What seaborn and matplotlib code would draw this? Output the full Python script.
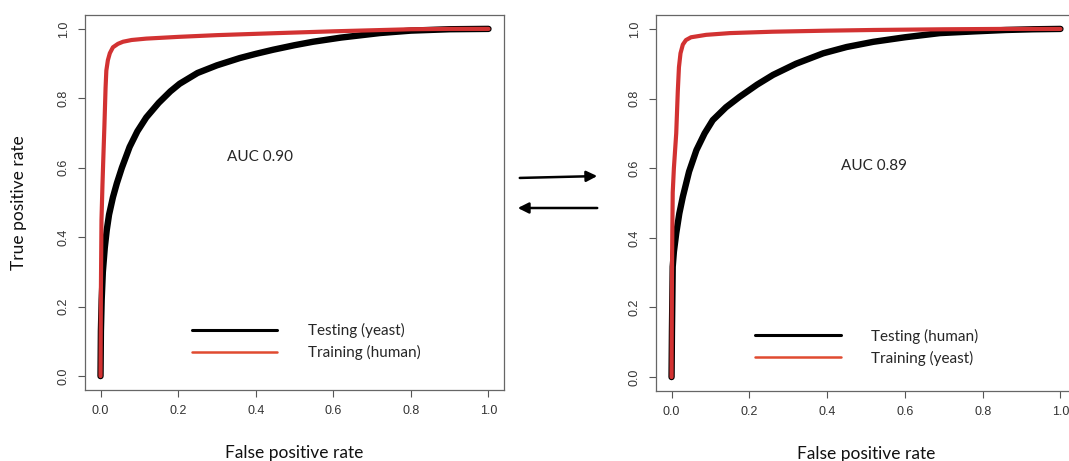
import numpy as np
import pandas as pd
import matplotlib
matplotlib.use("Agg")
import matplotlib.pyplot as plt
import seaborn as sns
from matplotlib.lines import Line2D

# ---- data ----
# Left panel: trained on human, tested on yeast
left_test_fpr = [0.0, 0.001, 0.003, 0.006, 0.011, 0.016, 0.022, 0.032, 0.042, 0.055, 0.075, 0.095, 0.118, 0.15, 0.18, 0.204, 0.25, 0.3, 0.359, 0.4, 0.445, 0.5, 0.548, 0.62, 0.72, 0.8, 0.9, 1.0]
left_test_tpr = [0.0, 0.13, 0.22, 0.30, 0.37, 0.42, 0.465, 0.515, 0.555, 0.60, 0.66, 0.705, 0.745, 0.787, 0.82, 0.842, 0.873, 0.895, 0.916, 0.928, 0.94, 0.953, 0.963, 0.975, 0.988, 0.995, 0.999, 1.0]
left_train_fpr = [0.0, 0.001, 0.0025, 0.005, 0.007, 0.01, 0.013, 0.015, 0.019, 0.024, 0.032, 0.045, 0.058, 0.08, 0.118, 0.2, 0.3, 0.46, 0.6, 0.8, 0.9, 1.0]
left_train_tpr = [0.0, 0.25, 0.45, 0.55, 0.62, 0.72, 0.83, 0.88, 0.91, 0.93, 0.947, 0.957, 0.963, 0.968, 0.972, 0.977, 0.982, 0.988, 0.993, 0.999, 1.0, 1.0]
# Right panel: trained on yeast, tested on human
right_test_fpr = [0.0, 0.001, 0.003, 0.006, 0.012, 0.02, 0.029, 0.045, 0.064, 0.085, 0.106, 0.14, 0.175, 0.22, 0.261, 0.32, 0.39, 0.45, 0.519, 0.6, 0.69, 0.78, 0.86, 0.93, 1.0]
right_test_tpr = [0.0, 0.13, 0.317, 0.36, 0.413, 0.47, 0.518, 0.59, 0.652, 0.70, 0.738, 0.775, 0.805, 0.84, 0.868, 0.9, 0.93, 0.948, 0.963, 0.976, 0.988, 0.993, 0.997, 0.999, 1.0]
right_train_fpr = [0.0, 0.001, 0.002, 0.003, 0.006, 0.009, 0.012, 0.016, 0.019, 0.023, 0.029, 0.037, 0.05, 0.089, 0.15, 0.26, 0.4, 0.52, 0.7, 0.85, 1.0]
right_train_tpr = [0.0, 0.29, 0.42, 0.53, 0.60, 0.65, 0.70, 0.82, 0.89, 0.93, 0.955, 0.968, 0.976, 0.983, 0.988, 0.992, 0.995, 0.997, 0.999, 1.0, 1.0]

left_labels = ["Testing (yeast)", "Training (human)"]
right_labels = ["Testing (human)", "Training (yeast)"]
auc_texts = ["AUC 0.90", "AUC 0.89"]
ticks = [0.0, 0.2, 0.4, 0.6, 0.8, 1.0]
tick_labels = ["0.0", "0.2", "0.4", "0.6", "0.8", "1.0"]

BLACK = "#000000"
RED = "#d23232"
LEG_RED = "#e04a30"

sns.set_style("ticks")
plt.rcParams["font.family"] = ["Lato", "DejaVu Sans"]

W, H = 1069, 461
fig = plt.figure(figsize=(W / 100, H / 100), dpi=100)

def px_axes(l, t, r, b):
    return fig.add_axes([l / W, 1 - b / H, (r - l) / W, (b - t) / H])

ax1 = px_axes(85, 15, 504, 390)
ax2 = px_axes(656, 15, 1076, 391)

def make_df(tf, tt, rf, rt, labels):
    d1 = pd.DataFrame({"fpr": tf, "tpr": tt, "set": labels[0], "order": range(len(tf))})
    d2 = pd.DataFrame({"fpr": rf, "tpr": rt, "set": labels[1], "order": range(len(rf))})
    return d1, d2

panels = [
    (ax1, left_test_fpr, left_test_tpr, left_train_fpr, left_train_tpr, left_labels, auc_texts[0], (0.41, 0.632), (0.255, 0.129)),
    (ax2, right_test_fpr, right_test_tpr, right_train_fpr, right_train_tpr, right_labels, auc_texts[1], (0.52, 0.606), (0.236, 0.117)),
]

for ax, tf, tt, rf, rt, labels, auc, auc_pos, leg_pos in panels:
    d_test, d_train = make_df(tf, tt, rf, rt, labels)
    sns.lineplot(data=d_test, x="fpr", y="tpr", sort=False, estimator=None, color=BLACK,
                 linewidth=4.6, ax=ax, legend=False, solid_capstyle="round",
                 solid_joinstyle="round", zorder=2)
    sns.lineplot(data=d_train, x="fpr", y="tpr", sort=False, estimator=None, color=RED,
                 linewidth=3.0, ax=ax, legend=False, solid_capstyle="round",
                 solid_joinstyle="round", zorder=3)
    ax.set_xlim(-0.04, 1.04)
    ax.set_ylim(-0.04, 1.04)
    ax.set_xticks(ticks)
    ax.set_xticklabels(tick_labels, family=["Liberation Sans"], fontsize=9, color="#333333")
    ax.set_yticks(ticks)
    ax.set_yticklabels(tick_labels, family=["Liberation Sans"], fontsize=9, color="#333333",
                       rotation=90, va="center")
    ax.tick_params(axis="both", direction="out", length=5, width=0.8, color="#555555", pad=6)
    for s in ax.spines.values():
        s.set_visible(True)
        s.set_color("#666666")
        s.set_linewidth(0.9)
    ax.set_xlabel("False positive rate", fontsize=12.5, labelpad=20, color="#111111")
    ax.set_ylabel("")
    ax.text(auc_pos[0], auc_pos[1], auc, fontsize=11, ha="center", va="center")
    handles = [Line2D([], [], color=BLACK, linewidth=2.2),
               Line2D([], [], color=LEG_RED, linewidth=1.8)]
    ax.legend(handles, labels, loc="center left", bbox_to_anchor=leg_pos, frameon=False,
              borderpad=0, borderaxespad=0, handlelength=5.6, handletextpad=2.0,
              labelspacing=0.45, fontsize=11)

ax1.set_ylabel("True positive rate", fontsize=12.5, labelpad=22, color="#111111")

# arrows between the panels
ax1.annotate("", xy=(600 / W, 1 - 176 / H), xytext=(517 / W, 1 - 178 / H),
             xycoords="figure fraction", textcoords="figure fraction",
             arrowprops=dict(arrowstyle="-|>", color="black", lw=1.8, mutation_scale=16),
             annotation_clip=False)
ax1.annotate("", xy=(515 / W, 1 - 208 / H), xytext=(600 / W, 1 - 208 / H),
             xycoords="figure fraction", textcoords="figure fraction",
             arrowprops=dict(arrowstyle="-|>", color="black", lw=1.8, mutation_scale=16),
             annotation_clip=False)

fig.savefig("out.png", dpi=100)
